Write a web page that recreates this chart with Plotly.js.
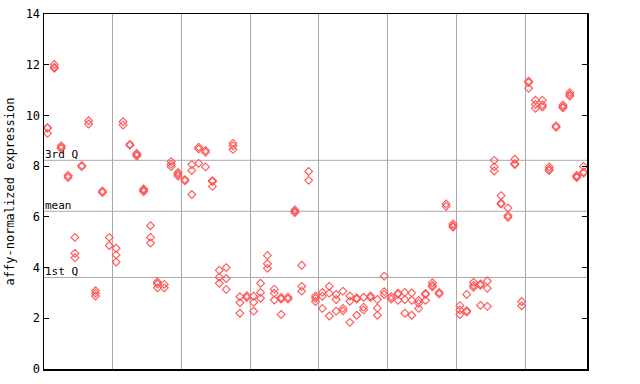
<!DOCTYPE html>
<html>
<head>
<meta charset="utf-8">
<script src="https://cdn.plot.ly/plotly-3.0.1.min.js"></script>
<style>html,body{margin:0;padding:0;background:#fff;}#chart{width:640px;height:384px;}</style>
</head>
<body>
<div id="chart"></div>
<script>
// Expression values per sample (replicates), grouped in panels of 10 samples
const panel1 = [[9.52,9.5,9.29],[12.01,11.9,11.86],[8.8,8.74,8.7],[7.63,7.55],[5.19,4.56,4.39],[8.03,7.98],[9.79,9.66],[3.09,2.99,2.88],[7.02,6.96],[5.19,4.87]];
const panel2 = [[4.76,4.5,4.22],[9.75,9.62],[8.86,8.82],[8.5,8.46,8.4],[7.1,7.05,7.0],[5.65,5.19,4.97],[3.43,3.35,3.2],[3.34,3.2],[8.18,8.07,7.98],[7.75,7.68,7.61]];
const panel3 = [[7.47,7.42],[8.06,7.83,6.88],[8.75,8.68,8.11],[8.62,8.55,7.97],[7.43,7.39,7.2],[3.89,3.62,3.38],[4.0,3.57,3.14],[8.9,8.8,8.66],[2.85,2.62,2.2],[2.89,2.82]];
const panel4 = [[2.87,2.63,2.28],[3.38,3.02,2.79],[4.48,4.15,3.97],[3.15,2.99,2.72],[2.82,2.76,2.15],[2.83,2.76],[6.27,6.21,6.17],[4.09,3.26,3.07],[7.79,7.44],[2.88,2.79,2.66]];
const panel5 = [[3.02,2.87,2.39],[3.26,2.99,2.09],[2.94,2.74,2.28],[3.07,2.39,2.29],[2.88,2.67,1.84],[2.8,2.76,2.12],[2.83,2.44,2.33],[2.88,2.82],[2.74,2.4,2.12],[3.66,3.05,2.94]];
const panel6 = [[2.85,2.76],[2.99,2.95,2.71],[3.02,2.74,2.2],[3.0,2.71,2.12],[2.7,2.59,2.39],[2.98,2.94,2.71],[3.4,3.3,3.24],[3.02,2.96],[6.51,6.42],[5.72,5.64,5.6]];
const panel7 = [[2.5,2.33,2.15],[2.94,2.3,2.25],[3.42,3.3,3.22],[3.35,3.3,2.51],[3.47,3.18,2.47],[8.23,7.97,7.81],[6.84,6.55,6.5],[6.35,6.05,5.98],[8.27,8.1,8.06],[2.66,2.49]];
const panel8 = [[11.35,11.3,11.07],[10.6,10.43,10.28],[10.6,10.41,10.33],[7.97,7.88,7.83],[9.59,9.53],[10.41,10.34,10.3],[10.9,10.82,10.76],[7.63,7.58,7.55],[7.99,7.77,7.73]];

const statNames = ["3rd Q", "mean", "1st Q"];
const statValues = [8.23, 6.22, 3.61];
const yTicks = [0, 2, 4, 6, 8, 10, 12, 14];
const panelBreaks = [9.5, 19.5, 29.5, 39.5, 49.5, 59.5, 69.5];

const samples = [].concat(panel1, panel2, panel3, panel4, panel5, panel6, panel7, panel8);
const xs = [], ys = [];
samples.forEach((reps, i) => reps.forEach(v => { xs.push(i); ys.push(v); }));

const mono = "DejaVu Sans Mono, monospace";
const gridCol = "#a9a9a9";

const shapes = statValues.map(v => ({
  type: "line", xref: "paper", x0: 0, x1: 1, yref: "y", y0: v, y1: v,
  line: {color: gridCol, width: 1}, layer: "below"
}));

const annotations = statNames.map((t, k) => ({
  text: t, xref: "paper", x: 0, xanchor: "left", yref: "y", y: statValues[k],
  yanchor: "bottom", showarrow: false, font: {family: mono, size: 11, color: "#000"},
  borderpad: 0, yshift: -2, xshift: 0
}));

const trace = {
  type: "scatter", mode: "markers", x: xs, y: ys,
  marker: {symbol: "diamond-open", size: 6, color: "#ff5555", line: {width: 1.1, color: "#ff5555"}},
  hoverinfo: "skip"
};

const layout = {
  width: 640, height: 384,
  margin: {l: 44, r: 53, t: 14, b: 15, pad: 0},
  paper_bgcolor: "#fff", plot_bgcolor: "#fff",
  showlegend: false,
  xaxis: {
    range: [-0.5, 78.5], tickvals: panelBreaks, showticklabels: false, ticks: "",
    showgrid: true, gridcolor: gridCol, gridwidth: 1, zeroline: false,
    showline: true, linecolor: "#000", linewidth: 1.5, mirror: true
  },
  yaxis: {
    range: [0, 14], tickvals: yTicks, ticktext: yTicks.map(String),
    ticks: "inside", ticklen: 5, tickcolor: "#000", tickwidth: 1,
    showgrid: false, zeroline: false,
    showline: true, linecolor: "#000", linewidth: 1.5, mirror: "ticks",
    tickfont: {family: mono, size: 12, color: "#000"},
    title: {text: "affy-normalized expression", font: {family: mono, size: 12, color: "#000"}, standoff: 8}
  },
  shapes: shapes,
  annotations: annotations
};

Plotly.newPlot("chart", [trace], layout, {staticPlot: true, displayModeBar: false});
</script>
</body>
</html>
